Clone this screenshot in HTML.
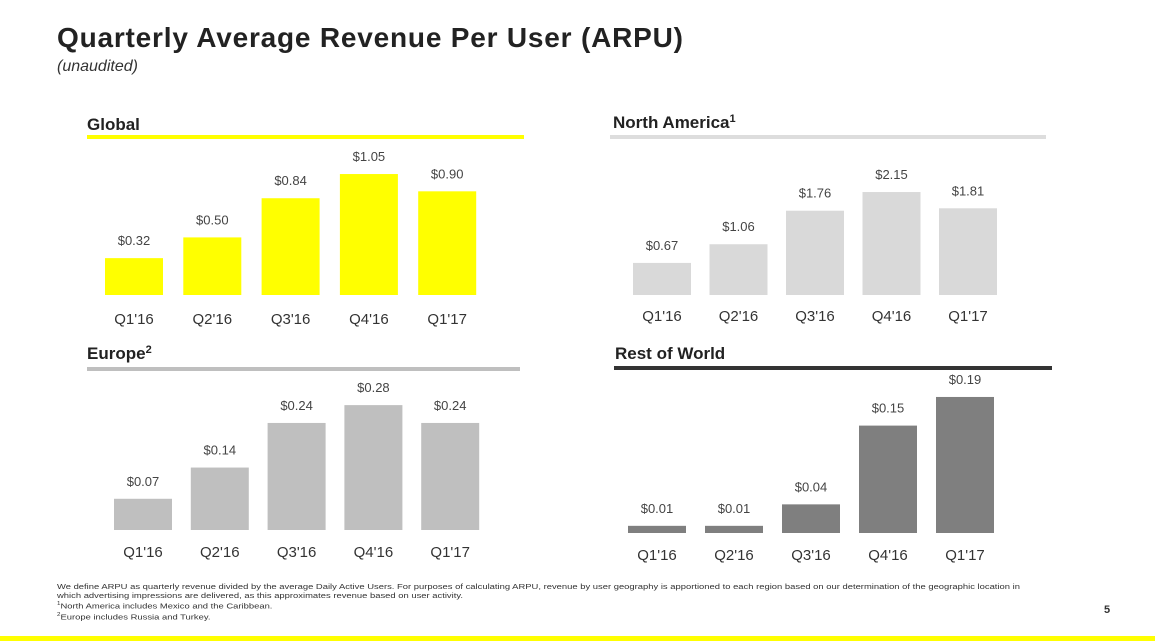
<!DOCTYPE html>
<html><head><meta charset="utf-8"><style>
body{margin:0;width:1155px;height:641px;background:#fff;position:relative;overflow:hidden;font-family:"Liberation Sans",sans-serif;}
.t{position:absolute;white-space:nowrap;}
</style></head><body>
<div class="t" style="left:57px;top:22px;font-size:28px;font-weight:bold;color:#222;letter-spacing:0.8px;">Quarterly Average Revenue Per User (ARPU)</div>
<div class="t" style="left:57px;top:58px;font-size:16px;font-style:italic;color:#333;">(unaudited)</div>
<svg id="c" width="1155" height="641" style="position:absolute;left:0;top:0"></svg>
<div class="t" style="left:57px;top:582px;font-size:7.6px;line-height:9.2px;color:#333;transform:scaleX(1.24);transform-origin:0 0;">We define ARPU as quarterly revenue divided by the average Daily Active Users. For purposes of calculating ARPU, revenue by user geography is apportioned to each region based on our determination of the geographic location in<br>which advertising impressions are delivered, as this approximates revenue based on user activity.<br><sup style="font-size:5px">1</sup>North America includes Mexico and the Caribbean.<br><sup style="font-size:5px">2</sup>Europe includes Russia and Turkey.</div>
<div class="t" style="left:1104px;top:604px;font-size:11px;font-weight:bold;color:#333;">5</div>
<div style="position:absolute;left:0;top:636px;width:1155px;height:5px;background:#ffff00;"></div>
<script>
const categories=["Q1'16","Q2'16","Q3'16","Q4'16","Q1'17"];
const globalValues=[0.32,0.50,0.84,1.05,0.90];
const northAmericaValues=[0.67,1.06,1.76,2.15,1.81];
const europeValues=[0.07,0.14,0.24,0.28,0.24];
const restOfWorldValues=[0.01,0.01,0.04,0.15,0.19];
const globalLabels=["$0.32","$0.50","$0.84","$1.05","$0.90"];
const northAmericaLabels=["$0.67","$1.06","$1.76","$2.15","$1.81"];
const europeLabels=["$0.07","$0.14","$0.24","$0.28","$0.24"];
const restOfWorldLabels=["$0.01","$0.01","$0.04","$0.15","$0.19"];
const svg=document.getElementById('c');const NS='http://www.w3.org/2000/svg';
function mk(tag,attrs,txt){const e=document.createElementNS(NS,tag);for(const k in attrs)e.setAttribute(k,attrs[k]);if(txt!==undefined)e.textContent=txt;svg.appendChild(e);return e;}
function chart(cfg,vals,labs){
  const h=mk('text',{x:cfg.hx,y:cfg.hy,'font-size':17,'font-weight':'bold',fill:'#222'},cfg.title);
  
  
  if(cfg.sup){const s=document.createElementNS(NS,'tspan');s.setAttribute('font-size',11);s.setAttribute('dy',-6);s.textContent=cfg.sup;h.appendChild(s);}
  const r=mk('rect',{x:cfg.lx1,y:cfg.ly,width:cfg.lx2-cfg.lx1,height:4,fill:cfg.lineColor});
  
  
  const y=v=>cfg.base-v*cfg.scale;
  vals.forEach((v,i)=>{
    const x=cfg.x0+i*cfg.step;
    const b=mk('rect',{x:x,y:y(v),width:58,height:cfg.base-y(v),fill:cfg.barColor});
    
    
    const t=mk('text',{x:x+29,y:y(v)-13,'text-anchor':'middle','font-size':13,fill:'#444'},labs[i]);
    
    
    const c=mk('text',{x:x+29,y:cfg.catY,'text-anchor':'middle','font-size':15,fill:'#333'},categories[i]);
    
    
  });
}
chart({key:'global',title:'Global',hx:87,hy:130,lx1:87,lx2:524,ly:135,lineColor:'#ffff00',barColor:'#ffff00',base:295,scale:115.2,x0:105,step:78.3,catY:324},globalValues,globalLabels);
chart({key:'north-america',title:'North America',sup:'1',hx:613,hy:128,lx1:610,lx2:1046,ly:135,lineColor:'#dddddd',barColor:'#d9d9d9',base:295,scale:47.9,x0:633,step:76.5,catY:321},northAmericaValues,northAmericaLabels);
chart({key:'europe',title:'Europe',sup:'2',hx:87,hy:359,lx1:87,lx2:520,ly:367,lineColor:'#bfbfbf',barColor:'#bfbfbf',base:530,scale:446,x0:114,step:76.8,catY:557},europeValues,europeLabels);
chart({key:'rest-of-world',title:'Rest of World',hx:615,hy:359,lx1:614,lx2:1052,ly:366,lineColor:'#333333',barColor:'#7f7f7f',base:533,scale:716,x0:628,step:77,catY:560},restOfWorldValues,restOfWorldLabels);
</script>
</body></html>
